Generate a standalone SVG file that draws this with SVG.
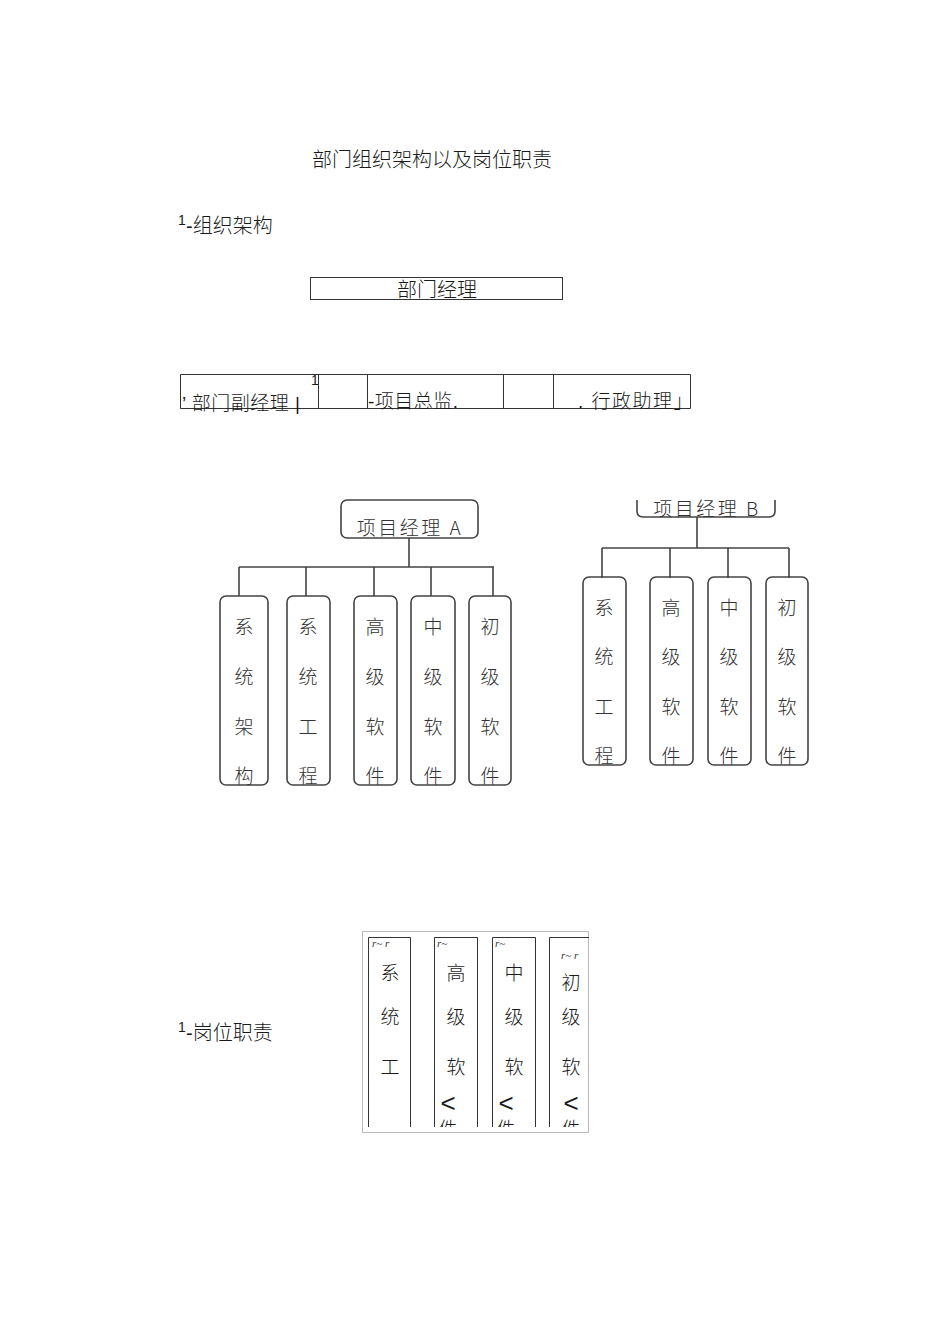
<svg xmlns="http://www.w3.org/2000/svg" width="950" height="1344" viewBox="0 0 950 1344">
<style>
.t{font-family:"Liberation Sans","Noto Sans CJK SC",sans-serif;fill:#1a1a1a;font-weight:300;}
.h{font-size:20px;}
.c{font-family:"Noto Sans CJK SC",sans-serif;font-size:19px;fill:#333;text-anchor:middle;font-weight:300;}
.box{fill:none;stroke:#444;stroke-width:1.6;}
.ln{fill:none;stroke:#444;stroke-width:1.6;}
.tb{fill:none;stroke:#333;stroke-width:1;}
.sm{font-family:"Liberation Serif",serif;font-size:11px;fill:#333;font-style:italic;}
.sup{font-family:"Liberation Sans",sans-serif;font-size:14px;fill:#1a1a1a;}
</style>
<rect width="950" height="1344" fill="#fff"/>
<g id="title"><text class="t h" x="312" y="167">部门组织架构以及岗位职责</text></g>
<g id="sec1"><text class="sup" x="178" y="225">1</text><text class="t h" x="186" y="233">-组织架构</text></g>
<g id="dept-mgr"><rect class="tb" x="310.5" y="277.5" width="252" height="22"/><text class="t h" x="437" y="297" text-anchor="middle">部门经理</text></g>
<g id="row2">
<path class="tb" d="M180.5,408.5 V374.5 H690.5 V408.5 M180.5,408.5 H690.5 M318.5,374.5 V408.5 M367.5,374.5 V408.5 M503.5,374.5 V408.5 M553.5,374.5 V408.5"/>
<text class="sup" x="311" y="385" font-size="12">1</text>
<text class="t" x="182" y="410" font-size="19" letter-spacing="0.5">’ 部门副经理 |</text>
<text class="t" x="368" y="408" font-size="19" letter-spacing="0.5">-项目总监.</text>
<text class="t" x="578" y="408" font-size="19" letter-spacing="1.5">. 行政助理」</text>
</g>
<g id="connectors">
<path class="ln" d="M409,538 V567 M239,567 H494 M239,567 V596 M306,567 V596 M374,567 V596 M431,567 V596 M493,567 V596"/>
<path class="ln" d="M697,517 V548 M602,548 H789 M602,548 V578 M670,548 V578 M728,548 V578 M789,548 V578"/>
</g>
<g id="pm-a"><rect class="box" x="341" y="500" width="137" height="38" rx="6"/><text class="c" x="410" y="535" font-size="18" letter-spacing="2.5">项目经理 A</text></g>
<g id="a1"><rect class="box" x="220" y="596" width="48" height="189" rx="6"/><text class="c" x="244" y="634">系</text><text class="c" x="244" y="684">统</text><text class="c" x="244" y="734">架</text><text class="c" x="244" y="783">构</text></g>
<g id="a2"><rect class="box" x="287" y="596" width="43" height="189" rx="6"/><text class="c" x="308" y="634">系</text><text class="c" x="308" y="684">统</text><text class="c" x="308" y="734">工</text><text class="c" x="308" y="783">程</text></g>
<g id="a3"><rect class="box" x="354" y="596" width="43" height="189" rx="6"/><text class="c" x="375" y="634">高</text><text class="c" x="375" y="684">级</text><text class="c" x="375" y="734">软</text><text class="c" x="375" y="783">件</text></g>
<g id="a4"><rect class="box" x="411" y="596" width="44" height="189" rx="6"/><text class="c" x="433" y="634">中</text><text class="c" x="433" y="684">级</text><text class="c" x="433" y="734">软</text><text class="c" x="433" y="783">件</text></g>
<g id="a5"><rect class="box" x="469" y="596" width="42" height="189" rx="6"/><text class="c" x="490" y="634">初</text><text class="c" x="490" y="684">级</text><text class="c" x="490" y="734">软</text><text class="c" x="490" y="783">件</text></g>
<g id="pm-b"><path class="box" d="M637,500 V511 Q637,517 643,517 H769 Q775,517 775,511 V500"/><text class="c" x="707" y="516" font-size="18" letter-spacing="2.5">项目经理 B</text></g>
<g id="b1"><rect class="box" x="583" y="577" width="43" height="188" rx="6"/><text class="c" x="604" y="615">系</text><text class="c" x="604" y="664">统</text><text class="c" x="604" y="714">工</text><text class="c" x="604" y="763">程</text></g>
<g id="b2"><rect class="box" x="650" y="577" width="43" height="188" rx="6"/><text class="c" x="671" y="615">高</text><text class="c" x="671" y="664">级</text><text class="c" x="671" y="714">软</text><text class="c" x="671" y="763">件</text></g>
<g id="b3"><rect class="box" x="708" y="577" width="43" height="188" rx="6"/><text class="c" x="729" y="615">中</text><text class="c" x="729" y="664">级</text><text class="c" x="729" y="714">软</text><text class="c" x="729" y="763">件</text></g>
<g id="b4"><rect class="box" x="766" y="577" width="42" height="188" rx="6"/><text class="c" x="787" y="615">初</text><text class="c" x="787" y="664">级</text><text class="c" x="787" y="714">软</text><text class="c" x="787" y="763">件</text></g>
<g id="sec2"><text class="sup" x="178" y="1032">1</text><text class="t h" x="186" y="1040">-岗位职责</text></g>
<g id="duties">
<rect x="362.5" y="931.5" width="226" height="201" fill="none" stroke="#bbb" stroke-width="1"/>
<defs><clipPath id="cp"><rect x="362" y="931" width="227" height="196"/></clipPath></defs>
<g clip-path="url(#cp)">
<path class="tb" d="M368.5,1127 V937.5 H410.5 V1127 M434.5,1127 V937.5 H477.5 V1127 M492.5,1127 V937.5 H535.5 V1127 M549.5,1127 V937.5 H589"/>
<text class="sm" x="372" y="947">r~ r</text><text class="t" x="390" y="980" font-size="19" text-anchor="middle">系</text><text class="t" x="390" y="1024" font-size="19" text-anchor="middle">统</text><text class="t" x="390" y="1074" font-size="19" text-anchor="middle">工</text>
<text class="sm" x="437" y="947">r~</text><text class="t" x="456" y="980" font-size="19" text-anchor="middle">高</text><text class="t" x="456" y="1024" font-size="19" text-anchor="middle">级</text><text class="t" x="456" y="1074" font-size="19" text-anchor="middle">软</text><text class="t" x="448" y="1112" font-size="26" text-anchor="middle">&lt;</text><text class="t" x="448" y="1136" font-size="19" text-anchor="middle">件</text>
<text class="sm" x="495" y="947">r~</text><text class="t" x="514" y="980" font-size="19" text-anchor="middle">中</text><text class="t" x="514" y="1024" font-size="19" text-anchor="middle">级</text><text class="t" x="514" y="1074" font-size="19" text-anchor="middle">软</text><text class="t" x="506" y="1112" font-size="26" text-anchor="middle">&lt;</text><text class="t" x="506" y="1136" font-size="19" text-anchor="middle">件</text>
<text class="sm" x="561" y="959">r~ r</text><text class="t" x="571" y="990" font-size="19" text-anchor="middle">初</text><text class="t" x="571" y="1024" font-size="19" text-anchor="middle">级</text><text class="t" x="571" y="1074" font-size="19" text-anchor="middle">软</text><text class="t" x="571" y="1112" font-size="26" text-anchor="middle">&lt;</text><text class="t" x="571" y="1136" font-size="19" text-anchor="middle">件</text>
</g>
</g>
</svg>
